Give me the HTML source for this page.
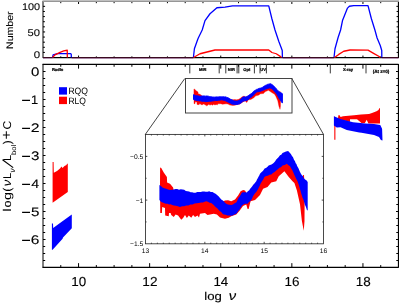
<!DOCTYPE html>
<html><head><meta charset="utf-8"><title>SED</title>
<style>html,body{margin:0;padding:0;background:#fff;overflow:hidden}svg{display:block;will-change:transform;opacity:0.999}text{font-family:"Liberation Sans",sans-serif;fill:#000;text-rendering:geometricPrecision}</style>
</head><body>
<svg width="399" height="304" viewBox="0 0 399 304">
<rect width="399" height="304" fill="#fff"/>
<g fill="none" stroke-linejoin="round" stroke-linecap="butt">
<path d="M43.00 1V58.05" stroke="#000" stroke-width="1.0"/>
<path d="M398.50 1V58.05" stroke="#000" stroke-width="1.25"/>
<path d="M43.00 57.55H398.50" stroke="#000" stroke-width="1.15"/>
<path d="M42.50 0.5H399" stroke="#c0c0c0" stroke-width="1"/>
<path d="M42.50 1.5H399" stroke="#969696" stroke-width="1"/>
<path d="M43.00 57.55h2.10M398.50 57.55h-2.10M43.00 52.43h1.90M398.50 52.43h-1.90M43.00 47.31h1.90M398.50 47.31h-1.90M43.00 42.19h1.90M398.50 42.19h-1.90M43.00 37.07h1.90M398.50 37.07h-1.90M43.00 31.95h2.10M398.50 31.95h-2.10M43.00 26.83h1.90M398.50 26.83h-1.90M43.00 21.71h1.90M398.50 21.71h-1.90M43.00 16.59h1.90M398.50 16.59h-1.90M43.00 11.47h1.90M398.50 11.47h-1.90M43.00 6.35h2.10M398.50 6.35h-2.10M60.77 57.55v-1.20M60.77 2.00v1.20M78.55 57.55v-2.00M78.55 2.00v2.00M96.33 57.55v-1.20M96.33 2.00v1.20M114.10 57.55v-1.20M114.10 2.00v1.20M131.88 57.55v-1.20M131.88 2.00v1.20M149.65 57.55v-2.00M149.65 2.00v2.00M167.43 57.55v-1.20M167.43 2.00v1.20M185.20 57.55v-1.20M185.20 2.00v1.20M202.97 57.55v-1.20M202.97 2.00v1.20M220.75 57.55v-2.00M220.75 2.00v2.00M238.53 57.55v-1.20M238.53 2.00v1.20M256.30 57.55v-1.20M256.30 2.00v1.20M274.07 57.55v-1.20M274.07 2.00v1.20M291.85 57.55v-2.00M291.85 2.00v2.00M309.62 57.55v-1.20M309.62 2.00v1.20M327.40 57.55v-1.20M327.40 2.00v1.20M345.18 57.55v-1.20M345.18 2.00v1.20M362.95 57.55v-2.00M362.95 2.00v2.00M380.73 57.55v-1.20M380.73 2.00v1.20" stroke="#000" stroke-width="1"/>
<polyline points="52.50,57.55 53.10,54.90 57.50,53.60 70.60,53.60 71.25,54.25 71.30,57.55" stroke="#0000ff" stroke-width="1.3"/>
<polyline points="193.40,57.55 194.40,48.75 197.50,40.00 198.30,38.00 202.20,30.00 205.00,20.60 210.00,13.75 216.90,7.75 225.00,7.10 232.50,5.80 268.75,5.80 271.90,18.75 275.00,30.00 278.75,41.25 282.25,50.60 282.40,57.55" stroke="#0000ff" stroke-width="1.3"/>
<polyline points="334.00,57.55 335.00,48.75 338.10,37.50 340.60,30.00 342.50,20.60 347.50,8.10 349.40,6.25 353.75,5.60 368.00,5.60 371.40,18.75 374.90,30.00 377.10,38.00 380.25,45.50 381.75,50.50 381.80,57.55" stroke="#0000ff" stroke-width="1.3"/>
<polyline points="52.50,57.55 55.00,54.90 60.00,52.40 63.75,50.90 67.25,50.25 67.30,57.55" stroke="#ff0000" stroke-width="1.3"/>
<polyline points="193.50,57.55 200.00,53.75 210.00,51.25 215.00,50.00 268.75,50.00 271.90,52.50 276.25,53.75 280.60,56.60 281.50,57.55" stroke="#ff0000" stroke-width="1.3"/>
<polyline points="334.50,57.55 338.75,54.40 343.75,51.25 350.00,50.00 368.00,50.10 374.00,53.60 379.60,56.75 380.20,57.55" stroke="#ff0000" stroke-width="1.3"/>
<path d="M43.00 57.55H52.30" stroke="#3a0a20" stroke-width="1.15"/>
<path d="M43.00 58.50H52.30" stroke="#d060d0" stroke-width="0.75" opacity="0.32"/>
<path d="M71.80 57.55H193.20" stroke="#3a0a20" stroke-width="1.15"/>
<path d="M71.80 58.50H193.20" stroke="#d060d0" stroke-width="0.75" opacity="0.32"/>
<path d="M282.80 57.55H333.80" stroke="#3a0a20" stroke-width="1.15"/>
<path d="M282.80 58.50H333.80" stroke="#d060d0" stroke-width="0.75" opacity="0.32"/>
<path d="M382.20 57.55H398.50" stroke="#3a0a20" stroke-width="1.15"/>
<path d="M382.20 58.50H398.50" stroke="#d060d0" stroke-width="0.75" opacity="0.32"/>
</g>
<g stroke="#000" stroke-width="0.08">
<text transform="translate(21.88,10.10) scale(1.120,1)" font-size="9.70px" >100</text>
<text transform="translate(27.55,35.80) scale(1.155,1)" font-size="9.70px" >50</text>
<text transform="translate(33.64,57.90) scale(1.181,1)" font-size="9.70px" >0</text>
</g>
<g transform="translate(13.0,48.1) rotate(-90)" stroke="#000" stroke-width="0.08"><text transform="translate(-0.84,0.00) scale(1.110,1)" font-size="9.50px" >Number</text></g>
<g fill="none">
<path d="M43.00 63.95V267.85" stroke="#000" stroke-width="1.0"/>
<path d="M398.50 63.95V267.85" stroke="#000" stroke-width="1.25"/>
<path d="M42.60 64.45H398.50M42.60 267.35H398.50" stroke="#000" stroke-width="1.15"/>
<path d="M60.77 267.35v-2.30M60.77 64.45v2.30M78.55 267.35v-4.20M78.55 64.45v4.20M96.33 267.35v-2.30M96.33 64.45v2.30M114.10 267.35v-2.30M114.10 64.45v2.30M131.88 267.35v-2.30M131.88 64.45v2.30M149.65 267.35v-4.20M149.65 64.45v4.20M167.43 267.35v-2.30M167.43 64.45v2.30M185.20 267.35v-2.30M185.20 64.45v2.30M202.97 267.35v-2.30M202.97 64.45v2.30M220.75 267.35v-4.20M220.75 64.45v4.20M238.53 267.35v-2.30M238.53 64.45v2.30M256.30 267.35v-2.30M256.30 64.45v2.30M274.07 267.35v-2.30M274.07 64.45v2.30M291.85 267.35v-4.20M291.85 64.45v4.20M309.62 267.35v-2.30M309.62 64.45v2.30M327.40 267.35v-2.30M327.40 64.45v2.30M345.18 267.35v-2.30M345.18 64.45v2.30M362.95 267.35v-4.20M362.95 64.45v4.20M380.73 267.35v-2.30M380.73 64.45v2.30M43.00 71.50h2.50M398.50 71.50h-2.50M43.00 78.50h2.20M398.50 78.50h-2.20M43.00 85.50h2.20M398.50 85.50h-2.20M43.00 92.50h2.20M398.50 92.50h-2.20M43.00 99.50h2.50M398.50 99.50h-2.50M43.00 106.50h2.20M398.50 106.50h-2.20M43.00 113.50h2.20M398.50 113.50h-2.20M43.00 120.50h2.20M398.50 120.50h-2.20M43.00 127.50h2.50M398.50 127.50h-2.50M43.00 134.50h2.20M398.50 134.50h-2.20M43.00 141.50h2.20M398.50 141.50h-2.20M43.00 148.50h2.20M398.50 148.50h-2.20M43.00 155.50h2.50M398.50 155.50h-2.50M43.00 162.50h2.20M398.50 162.50h-2.20M43.00 169.50h2.20M398.50 169.50h-2.20M43.00 176.50h2.20M398.50 176.50h-2.20M43.00 183.50h2.50M398.50 183.50h-2.50M43.00 190.50h2.20M398.50 190.50h-2.20M43.00 197.50h2.20M398.50 197.50h-2.20M43.00 204.50h2.20M398.50 204.50h-2.20M43.00 211.50h2.50M398.50 211.50h-2.50M43.00 218.50h2.20M398.50 218.50h-2.20M43.00 225.50h2.20M398.50 225.50h-2.20M43.00 232.50h2.20M398.50 232.50h-2.20M43.00 239.50h2.50M398.50 239.50h-2.50M43.00 246.50h2.20M398.50 246.50h-2.20M43.00 253.50h2.20M398.50 253.50h-2.20M43.00 260.50h2.20M398.50 260.50h-2.20" stroke="#000" stroke-width="1"/>
<path d="M189.80 64.45V73.4M219.20 64.45V73.4M225.80 64.45V73.4M237.10 64.45V73.4M238.80 64.45V73.4M254.40 64.45V73.4M260.00 64.45V73.4M266.40 64.45V73.4M330.30 64.45V73.4M366.00 64.45V73.4" stroke="#222" stroke-width="0.9"/>
</g>
<g font-size="4.1px" font-weight="bold" text-anchor="middle" stroke="#000" stroke-width="0.22">
<text x="57.6" y="71.0">Radio</text>
<text x="202.8" y="71.0">MIR</text>
<text x="231.4" y="71.0">NIR</text>
<text x="246.9" y="71.0">Opt</text>
<text x="263.1" y="71.0">UV</text>
<text x="348.0" y="71.0">X-ray</text>
<text x="381.0" y="73.3" font-size="4.6px">(At z=0)</text>
</g>
<rect x="59" y="87.2" width="8" height="7.4" fill="#0000ff"/>
<rect x="59" y="96.7" width="8" height="7.4" fill="#ff0000"/>
<text transform="translate(68.41,94.10) scale(0.935,1)" font-size="9.20px" >RQQ</text>
<text transform="translate(68.42,103.70) scale(0.929,1)" font-size="9.20px" >RLQ</text>
<polygon fill="#ff0000" points="52.6,202.8 52.6,162 53.6,162 53.8,172.8 57,171 60,168.5 61.5,166.5 62.5,168 64.5,166 66.5,165 67,163.8 67.8,163.8 67.8,192 60,197.5 52.6,202.8"/>
<polygon fill="#0000ff" points="51.9,249.8 51.9,223.4 53,223.4 53.2,228 60,223 71.8,214.4 71.8,228.2 63,237.5 62.6,238.8 52.6,249.8"/>
<polygon fill="#ff0000" points="334.3,116 334.3,139.8 335.4,139.8 335.4,118"/>
<polygon fill="#ff0000" points="338,118.2 338.4,115.3 339.3,115.0 340.6,117.0 343,116.2 354,115.3 361,114.6 369,113.9 372,113.0 376.5,111.3 378.5,110.0 379.3,108.3 380,108.3 380,123.4 368.4,123.4 366.7,119.8 364.9,123.0 361.5,123.0 357,119.2 350.0,119.2 350.0,122 338,119"/>
<polygon fill="#0000ff" points="333.9,116.3 340.5,119.0 353,122.3 365.5,123.4 374,124.0 380.25,125.0 382.1,128.75 382.5,140.4 380.9,140 379,136.9 374,135 361.5,132.75 359.25,132.5 346.75,130 340.5,127.3 336.75,127.5 333.9,125.6"/>
<g transform="matrix(0.59916 0 0 0.32037 98.023 35.395)">
<polygon fill="#ff0000" stroke="#ff0000" stroke-width="0.35" stroke-linejoin="round" vector-effect="non-scaling-stroke" points="160.00,186.00 160.10,167.50 161.25,168.10 163.75,172.50 166.90,176.90 167.10,182.50 170.00,183.75 173.10,187.50 174.00,192.00 200.00,196.00 222.00,203.00 223.50,201.25 225.00,200.60 228.10,200.25 231.25,201.25 235.00,199.40 238.10,195.60 240.60,191.25 243.10,190.00 245.00,190.60 247.00,194.00 260.00,180.00 270.00,170.00 287.00,158.00 295.00,170.00 302.90,181.00 303.10,175.00 304.00,175.00 304.30,182.00 304.60,204.00 304.50,221.00 303.75,230.80 301.90,221.00 300.00,204.25 296.90,190.50 294.40,183.00 292.50,181.25 288.75,176.90 284.40,171.25 278.75,176.25 276.25,181.25 271.25,182.50 267.50,186.90 263.10,188.75 260.00,195.00 255.00,200.00 250.60,201.25 248.60,209.00 247.60,209.00 246.25,204.40 243.00,206.00 239.40,211.00 236.25,214.50 231.25,216.25 228.75,217.75 225.00,218.75 220.00,217.50 216.90,214.40 213.75,213.75 207.50,215.00 205.00,213.10 200.00,213.75 199.00,217.50 197.50,215.60 195.00,216.90 193.10,215.00 191.25,217.75 188.75,215.60 186.90,218.10 185.00,215.00 183.10,218.10 181.25,219.75 178.10,215.60 175.60,214.40 173.75,216.90 171.25,215.00 170.60,213.00 169.00,213.00 168.75,216.25 165.20,215.60 165.00,208.00 162.20,207.00 161.90,213.10 160.25,213.10"/>
<polygon fill="#0000ff" stroke="#0000ff" stroke-width="1" stroke-linejoin="round" vector-effect="non-scaling-stroke" points="159.40,185.00 160.95,186.01 162.50,187.50 164.38,188.16 166.25,188.63 168.12,189.47 170.00,190.00 171.88,189.81 173.75,189.40 175.50,189.01 177.25,188.96 179.00,189.70 180.75,189.18 182.50,189.40 184.17,189.78 185.83,191.08 187.50,191.25 189.06,191.60 190.62,192.30 192.19,192.35 193.75,192.75 195.50,192.63 197.25,191.94 199.00,192.12 200.75,192.08 202.50,191.50 204.17,191.59 205.83,191.85 207.50,191.85 209.17,191.37 210.83,192.07 212.50,191.90 214.05,192.91 215.60,193.75 217.07,195.02 218.53,196.23 220.00,198.10 221.25,199.48 222.50,200.18 223.75,201.25 225.00,202.70 226.25,203.75 227.92,204.51 229.58,204.78 231.25,205.00 232.92,204.55 234.58,203.24 236.25,202.50 237.08,201.10 237.92,199.12 238.75,197.50 239.80,196.23 240.85,194.51 241.90,192.50 243.57,192.14 245.23,192.17 246.90,192.50 247.99,191.00 249.07,190.42 250.16,188.69 251.25,187.50 252.25,186.36 253.25,184.82 254.25,183.76 255.25,182.40 256.25,181.25 257.00,179.62 257.75,178.33 258.50,176.83 259.25,175.61 260.00,173.75 261.15,172.60 262.30,171.51 263.45,170.13 264.60,168.50 265.95,168.07 267.30,166.90 268.65,165.57 270.00,165.00 271.50,164.57 273.00,163.50 274.08,162.55 275.17,161.13 276.25,159.40 277.50,158.20 278.75,157.07 280.00,155.36 281.25,154.66 282.50,153.10 284.25,152.37 286.00,151.50 288.10,151.00 290.00,153.10 291.00,154.36 292.00,156.00 293.00,157.36 294.00,159.82 295.00,161.25 295.71,163.21 296.43,163.92 297.14,166.08 297.86,167.26 298.57,168.54 299.29,170.19 300.00,171.90 300.94,173.67 301.88,175.29 302.81,176.06 303.75,178.00 305.07,179.40 306.38,180.19 307.70,181.90 307.70,210.60 306.90,209.90 306.27,208.00 305.63,206.21 305.00,204.90 304.48,203.24 303.97,201.46 303.45,199.81 302.93,198.54 302.42,197.44 301.90,195.50 301.42,194.21 300.95,192.61 300.48,190.56 300.00,189.28 299.52,187.49 299.05,185.83 298.58,184.21 298.10,183.00 297.50,181.24 296.90,180.00 296.14,178.76 295.38,177.06 294.62,175.42 293.86,173.79 293.10,171.90 292.33,170.21 291.55,168.90 290.77,167.78 290.00,166.25 288.45,165.21 286.90,163.75 284.70,164.99 282.50,165.60 280.94,167.17 279.38,167.68 277.81,169.37 276.25,170.50 274.58,171.95 272.92,173.11 271.25,174.40 269.54,174.74 267.82,175.63 266.11,175.91 264.40,176.90 263.61,178.69 262.82,180.03 262.04,181.14 261.25,182.50 260.50,183.82 259.75,185.87 259.00,187.07 258.25,188.84 257.50,190.00 256.25,191.98 255.00,193.34 253.75,195.00 252.92,196.59 252.08,198.42 251.25,200.00 250.00,201.19 248.75,202.20 247.50,203.75 245.00,203.75 243.45,204.50 241.90,205.60 241.07,207.35 240.23,208.12 239.40,210.00 238.35,210.84 237.30,212.61 236.25,213.75 234.38,214.48 232.50,215.60 230.83,215.63 229.17,215.57 227.50,215.60 225.62,214.86 223.75,214.40 222.50,213.80 221.25,212.03 220.00,211.25 218.75,209.92 217.50,208.48 216.25,207.50 215.00,206.52 213.75,205.10 212.50,204.07 211.25,203.10 209.58,202.71 207.92,201.71 206.25,201.25 204.58,201.72 202.92,202.45 201.25,202.50 198.75,203.10 196.67,203.17 194.58,203.57 192.50,204.40 190.42,204.56 188.33,205.44 186.25,205.60 184.17,206.14 182.08,206.23 180.00,206.90 177.92,206.31 175.83,205.74 173.75,205.60 172.19,205.10 170.62,204.26 169.06,204.39 167.50,203.75 165.94,203.64 164.38,203.23 162.81,202.57 161.25,201.90 159.40,200.00"/>
</g>
<rect x="185.50" y="78.50" width="106.50" height="34.50" fill="none" stroke="#3a3a3a" stroke-width="0.95"/>
<path d="M184.80 78.50L145.30 134.40M291.80 78.50L323.50 134.40" stroke="#3a3a3a" stroke-width="0.95" fill="none"/>
<rect x="145.50" y="134.40" width="178.00" height="109.40" fill="#fff" stroke="none"/>
<polygon fill="#ff0000" points="160.00,186.00 160.10,167.50 161.25,168.10 163.75,172.50 166.90,176.90 167.10,182.50 170.00,183.75 173.10,187.50 174.00,192.00 200.00,196.00 222.00,203.00 223.50,201.25 225.00,200.60 228.10,200.25 231.25,201.25 235.00,199.40 238.10,195.60 240.60,191.25 243.10,190.00 245.00,190.60 247.00,194.00 260.00,180.00 270.00,170.00 287.00,158.00 295.00,170.00 302.90,181.00 303.10,175.00 304.00,175.00 304.30,182.00 304.60,204.00 304.50,221.00 303.75,230.80 301.90,221.00 300.00,204.25 296.90,190.50 294.40,183.00 292.50,181.25 288.75,176.90 284.40,171.25 278.75,176.25 276.25,181.25 271.25,182.50 267.50,186.90 263.10,188.75 260.00,195.00 255.00,200.00 250.60,201.25 248.60,209.00 247.60,209.00 246.25,204.40 243.00,206.00 239.40,211.00 236.25,214.50 231.25,216.25 228.75,217.75 225.00,218.75 220.00,217.50 216.90,214.40 213.75,213.75 207.50,215.00 205.00,213.10 200.00,213.75 199.00,217.50 197.50,215.60 195.00,216.90 193.10,215.00 191.25,217.75 188.75,215.60 186.90,218.10 185.00,215.00 183.10,218.10 181.25,219.75 178.10,215.60 175.60,214.40 173.75,216.90 171.25,215.00 170.60,213.00 169.00,213.00 168.75,216.25 165.20,215.60 165.00,208.00 162.20,207.00 161.90,213.10 160.25,213.10"/>
<polygon fill="#0000ff" points="159.40,185.00 160.95,186.01 162.50,187.50 164.38,188.16 166.25,188.63 168.12,189.47 170.00,190.00 171.88,189.81 173.75,189.40 175.50,189.01 177.25,188.96 179.00,189.70 180.75,189.18 182.50,189.40 184.17,189.78 185.83,191.08 187.50,191.25 189.06,191.60 190.62,192.30 192.19,192.35 193.75,192.75 195.50,192.63 197.25,191.94 199.00,192.12 200.75,192.08 202.50,191.50 204.17,191.59 205.83,191.85 207.50,191.85 209.17,191.37 210.83,192.07 212.50,191.90 214.05,192.91 215.60,193.75 217.07,195.02 218.53,196.23 220.00,198.10 221.25,199.48 222.50,200.18 223.75,201.25 225.00,202.70 226.25,203.75 227.92,204.51 229.58,204.78 231.25,205.00 232.92,204.55 234.58,203.24 236.25,202.50 237.08,201.10 237.92,199.12 238.75,197.50 239.80,196.23 240.85,194.51 241.90,192.50 243.57,192.14 245.23,192.17 246.90,192.50 247.99,191.00 249.07,190.42 250.16,188.69 251.25,187.50 252.25,186.36 253.25,184.82 254.25,183.76 255.25,182.40 256.25,181.25 257.00,179.62 257.75,178.33 258.50,176.83 259.25,175.61 260.00,173.75 261.15,172.60 262.30,171.51 263.45,170.13 264.60,168.50 265.95,168.07 267.30,166.90 268.65,165.57 270.00,165.00 271.50,164.57 273.00,163.50 274.08,162.55 275.17,161.13 276.25,159.40 277.50,158.20 278.75,157.07 280.00,155.36 281.25,154.66 282.50,153.10 284.25,152.37 286.00,151.50 288.10,151.00 290.00,153.10 291.00,154.36 292.00,156.00 293.00,157.36 294.00,159.82 295.00,161.25 295.71,163.21 296.43,163.92 297.14,166.08 297.86,167.26 298.57,168.54 299.29,170.19 300.00,171.90 300.94,173.67 301.88,175.29 302.81,176.06 303.75,178.00 305.07,179.40 306.38,180.19 307.70,181.90 307.70,210.60 306.90,209.90 306.27,208.00 305.63,206.21 305.00,204.90 304.48,203.24 303.97,201.46 303.45,199.81 302.93,198.54 302.42,197.44 301.90,195.50 301.42,194.21 300.95,192.61 300.48,190.56 300.00,189.28 299.52,187.49 299.05,185.83 298.58,184.21 298.10,183.00 297.50,181.24 296.90,180.00 296.14,178.76 295.38,177.06 294.62,175.42 293.86,173.79 293.10,171.90 292.33,170.21 291.55,168.90 290.77,167.78 290.00,166.25 288.45,165.21 286.90,163.75 284.70,164.99 282.50,165.60 280.94,167.17 279.38,167.68 277.81,169.37 276.25,170.50 274.58,171.95 272.92,173.11 271.25,174.40 269.54,174.74 267.82,175.63 266.11,175.91 264.40,176.90 263.61,178.69 262.82,180.03 262.04,181.14 261.25,182.50 260.50,183.82 259.75,185.87 259.00,187.07 258.25,188.84 257.50,190.00 256.25,191.98 255.00,193.34 253.75,195.00 252.92,196.59 252.08,198.42 251.25,200.00 250.00,201.19 248.75,202.20 247.50,203.75 245.00,203.75 243.45,204.50 241.90,205.60 241.07,207.35 240.23,208.12 239.40,210.00 238.35,210.84 237.30,212.61 236.25,213.75 234.38,214.48 232.50,215.60 230.83,215.63 229.17,215.57 227.50,215.60 225.62,214.86 223.75,214.40 222.50,213.80 221.25,212.03 220.00,211.25 218.75,209.92 217.50,208.48 216.25,207.50 215.00,206.52 213.75,205.10 212.50,204.07 211.25,203.10 209.58,202.71 207.92,201.71 206.25,201.25 204.58,201.72 202.92,202.45 201.25,202.50 198.75,203.10 196.67,203.17 194.58,203.57 192.50,204.40 190.42,204.56 188.33,205.44 186.25,205.60 184.17,206.14 182.08,206.23 180.00,206.90 177.92,206.31 175.83,205.74 173.75,205.60 172.19,205.10 170.62,204.26 169.06,204.39 167.50,203.75 165.94,203.64 164.38,203.23 162.81,202.57 161.25,201.90 159.40,200.00"/>
<rect x="145.50" y="134.40" width="178.00" height="109.40" fill="none" stroke="#2a2a2a" stroke-width="0.85"/>
<path d="M151.43 243.80v-1.10M151.43 134.40v1.10M157.37 243.80v-1.10M157.37 134.40v1.10M163.30 243.80v-1.10M163.30 134.40v1.10M169.23 243.80v-1.10M169.23 134.40v1.10M175.17 243.80v-1.10M175.17 134.40v1.10M181.10 243.80v-1.10M181.10 134.40v1.10M187.03 243.80v-1.10M187.03 134.40v1.10M192.97 243.80v-1.10M192.97 134.40v1.10M198.90 243.80v-1.10M198.90 134.40v1.10M204.83 243.80v-2.00M204.83 134.40v2.00M210.77 243.80v-1.10M210.77 134.40v1.10M216.70 243.80v-1.10M216.70 134.40v1.10M222.63 243.80v-1.10M222.63 134.40v1.10M228.57 243.80v-1.10M228.57 134.40v1.10M234.50 243.80v-1.10M234.50 134.40v1.10M240.43 243.80v-1.10M240.43 134.40v1.10M246.37 243.80v-1.10M246.37 134.40v1.10M252.30 243.80v-1.10M252.30 134.40v1.10M258.23 243.80v-1.10M258.23 134.40v1.10M264.17 243.80v-2.00M264.17 134.40v2.00M270.10 243.80v-1.10M270.10 134.40v1.10M276.03 243.80v-1.10M276.03 134.40v1.10M281.97 243.80v-1.10M281.97 134.40v1.10M287.90 243.80v-1.10M287.90 134.40v1.10M293.83 243.80v-1.10M293.83 134.40v1.10M299.77 243.80v-1.10M299.77 134.40v1.10M305.70 243.80v-1.10M305.70 134.40v1.10M311.63 243.80v-1.10M311.63 134.40v1.10M317.57 243.80v-1.10M317.57 134.40v1.10M145.50 156.40h1.80M323.50 156.40h-1.80M145.50 178.25h1.10M323.50 178.25h-1.10M145.50 200.10h1.80M323.50 200.10h-1.80M145.50 221.95h1.10M323.50 221.95h-1.10" stroke="#222" stroke-width="0.8" fill="none"/>
<g font-size="6.7px" text-anchor="end">
<text x="143.3" y="158.8">−0.5</text><text x="143.3" y="202.5">−1</text><text x="143.3" y="246.0">−1.5</text>
</g>
<g font-size="6.7px" text-anchor="middle">
<text x="145.5" y="252.5">13</text>
<text x="204.8" y="252.5">14</text>
<text x="264.2" y="252.5">15</text>
<text x="323.5" y="252.5">16</text>
</g>
<g stroke="#000" stroke-width="0.12">
<text transform="translate(71.25,285.50) scale(1.031,1)" font-size="13.00px" >10</text>
<text transform="translate(142.33,285.50) scale(1.046,1)" font-size="13.00px" >12</text>
<text transform="translate(213.45,285.50) scale(1.026,1)" font-size="13.00px" >14</text>
<text transform="translate(284.54,285.50) scale(1.036,1)" font-size="13.00px" >16</text>
<text transform="translate(355.64,285.50) scale(1.036,1)" font-size="13.00px" >18</text>
<text transform="translate(204.24,300.25) scale(1.157,1)" font-size="11.40px" >log</text>
<text transform="translate(228.86,300.25) scale(1.177,1)" font-size="12.60px" font-style="italic" >ν</text>
</g>
<g stroke="#000" stroke-width="0.1">
<text transform="translate(31.00,76.25) scale(1.210,1)" font-size="12.40px" >0</text>
<text transform="translate(31.03,104.25) scale(1.038,1)" font-size="12.40px" >1</text>
<text transform="translate(30.81,132.25) scale(1.276,1)" font-size="12.40px" >2</text>
<text transform="translate(30.99,160.25) scale(1.222,1)" font-size="12.40px" >3</text>
<text transform="translate(31.31,188.25) scale(1.150,1)" font-size="12.40px" >4</text>
<text transform="translate(30.99,216.25) scale(1.222,1)" font-size="12.40px" >5</text>
<text transform="translate(30.83,244.25) scale(1.249,1)" font-size="12.40px" >6</text>
</g>
<path d="M22.1 100.30H30.0M22.1 128.30H30.0M22.1 156.30H30.0M22.1 184.30H30.0M22.1 212.30H30.0M22.1 240.30H30.0" stroke="#000" stroke-width="1.15" fill="none"/>
<g transform="translate(10.7,211) rotate(-90)" stroke="#000" stroke-width="0.03">
<text transform="translate(-0.66,0.00) scale(1.377,1)" font-size="11.30px" >l</text>
<text transform="translate(3.59,0.00) scale(1.127,1)" font-size="11.30px" >o</text>
<text transform="translate(10.92,0.00) scale(1.278,1)" font-size="11.30px" >g</text>
<text transform="translate(19.15,0.00) scale(1.102,1)" font-size="11.30px" >(</text>
<text transform="translate(24.75,0.00) scale(1.095,1)" font-size="11.90px" font-style="italic" >ν</text>
<text transform="translate(31.90,0.00) scale(0.994,1)" font-size="11.30px" >L</text>
<text transform="translate(38.17,4.10) scale(1.081,1)" font-size="7.90px" font-style="italic" >ν</text>
<path d="M43.4 2.5L51.3 -8.2" stroke="#000" stroke-width="1.15" fill="none"/>
<text transform="translate(49.92,0.00) scale(0.974,1)" font-size="11.30px" >L</text>
<text transform="translate(56.01,4.90) scale(1.115,1)" font-size="6.80px" >bol</text>
<text transform="translate(66.74,0.00) scale(1.035,1)" font-size="11.30px" >)</text>
<text transform="translate(71.44,0.40) scale(1.090,1)" font-size="14.00px" >+</text>
<text transform="translate(81.39,0.00) scale(1.080,1)" font-size="11.30px" >C</text>
</g>
</svg></body></html>
